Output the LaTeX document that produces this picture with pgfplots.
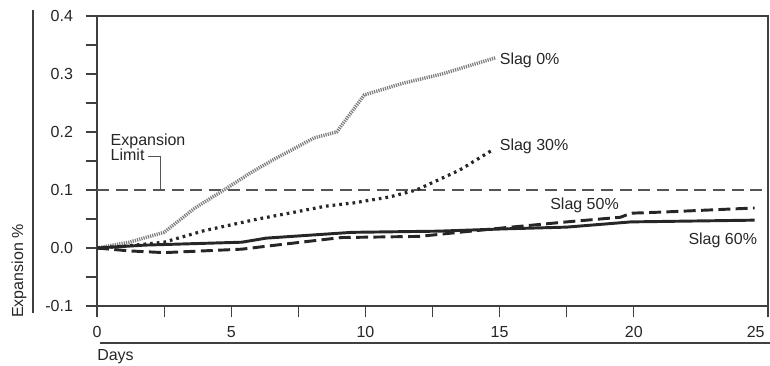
\documentclass[border=0pt]{standalone}
\usepackage{fontspec}
\setmainfont{Liberation Sans}
\usepackage{pgfplots}
\pgfplotsset{compat=1.18}
\definecolor{ink}{HTML}{262626}
\definecolor{axisgray}{HTML}{404040}
\definecolor{limitgray}{HTML}{555555}
\definecolor{slagzero}{HTML}{7E7E7E}

\pgfplotstableread{
x y
0 0
1.2 0.010
2.5 0.027
3.65 0.069
4.73 0.100
5.7 0.129
6.56 0.152
8.1 0.190
8.93 0.200
9.96 0.264
11.4 0.284
12.85 0.300
14.85 0.328
}\slagzero

\pgfplotstableread{
x y
0 0
1 0.003
2.5 0.010
4 0.030
5 0.040
6 0.050
7.5 0.063
8.5 0.072
9.6 0.078
10.9 0.088
11.9 0.100
13.5 0.134
14.7 0.168
}\slagthirty

\pgfplotstableread{
x y
0 0
1.2 -0.005
2.5 -0.008
5.4 -0.002
6.3 0.003
9.1 0.018
12 0.020
15.2 0.035
17.5 0.045
19.5 0.053
19.9 0.060
21.1 0.062
24.5 0.069
}\slagfifty

\pgfplotstableread{
x y
0 0
1.8 0.005
5.4 0.010
6.3 0.017
9.5 0.027
12.7 0.029
15.2 0.033
17.5 0.036
19.9 0.045
24.5 0.048
}\slagsixty

\begin{document}
\begin{tikzpicture}
\useasboundingbox (-72.75pt,-45pt) rectangle (504.75pt,229.5pt);
\begin{axis}[
  at={(0,0)}, anchor=south west,
  scale only axis,
  width=503.25pt, height=217.5pt,
  xmin=0, xmax=25, ymin=-0.1, ymax=0.4,
  xtick={0,5,10,15,20},
  extra x ticks={25},
  extra x tick style={xticklabel style={anchor=north east, xshift=1pt}},
  ytick={-0.1,0,0.1,0.2,0.3,0.4},
  minor x tick num=1, minor y tick num=1,
  tick pos=left, tick align=outside,
  major tick length=8.5pt, minor tick length=8.5pt,
  axis line style={axisgray, line width=0.9pt},
  every tick/.style={axisgray, line width=0.8pt},
  /pgf/number format/assume math mode=true,
  yticklabel style={/pgf/number format/fixed, /pgf/number format/fixed zerofill, /pgf/number format/precision=1},
  xticklabel shift=3pt,
  yticklabel shift=6pt,
  tick label style={font=\fontsize{12}{14}\selectfont, text=ink},
  clip=false,
]
\addplot[limitgray, line width=0.8pt, dash pattern=on 9pt off 5pt] coordinates {(0,0.1) (25,0.1)};
\addplot[slagzero, line width=2.6pt, dash pattern=on 0.9pt off 0.8pt] table {\slagzero};
\addplot[ink, line width=2.4pt, dash pattern=on 2pt off 3pt] table {\slagthirty};
\addplot[ink, line width=2.2pt, dash pattern=on 9pt off 4pt] table {\slagfifty};
\addplot[ink, line width=2.2pt] table {\slagsixty};

\node[anchor=west, inner sep=0pt, text=ink, font=\fontsize{12}{14}\selectfont] at (axis cs:15.0,0.324) {Slag 0\%};
\node[anchor=west, inner sep=0pt, text=ink, font=\fontsize{12}{14}\selectfont] at (axis cs:15.0,0.176) {Slag 30\%};
\node[anchor=east, inner sep=0pt, text=ink, font=\fontsize{12}{14}\selectfont] at (axis cs:19.45,0.074) {Slag 50\%};
\node[anchor=east, inner sep=0pt, text=ink, font=\fontsize{12}{14}\selectfont] at (axis cs:24.6,0.0138) {Slag 60\%};
\node[anchor=west, inner sep=0pt, text=ink, font=\fontsize{12}{14}\selectfont] at (axis cs:0.5,0.184) {Expansion};
\node[anchor=west, inner sep=0pt, text=ink, font=\fontsize{12}{14}\selectfont] at (axis cs:0.5,0.160) {Limit};
\draw[limitgray, line width=0.7pt] (axis cs:1.9,0.157) -- (axis cs:2.38,0.157) -- (axis cs:2.38,0.1);
\end{axis}
\draw[axisgray, line width=0.9pt] (-48pt,222pt) -- (-48pt,-5.25pt);
\draw[axisgray, line width=0.9pt] (2.25pt,-27.75pt) -- (504.75pt,-27.75pt);
\node[rotate=90, inner sep=0pt, text=ink, font=\fontsize{12}{14}\selectfont] at (-58.5pt,26.25pt) {Expansion \%};
\node[anchor=west, inner sep=0pt, text=ink, font=\fontsize{12}{14}\selectfont] at (0pt,-38.25pt) {Days};
\end{tikzpicture}
\end{document}
